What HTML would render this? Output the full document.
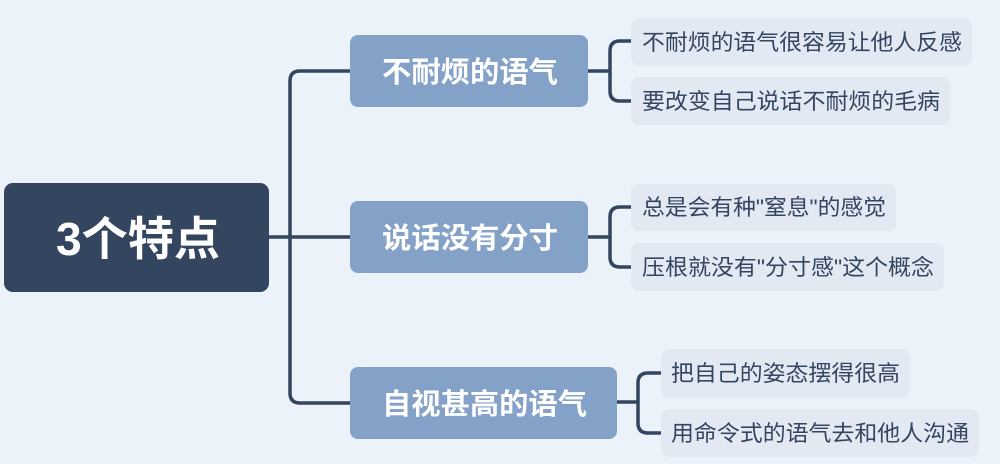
<!DOCTYPE html>
<html><head><meta charset="utf-8"><style>
body{margin:0;background:#ecf2fa;}
svg{display:block}
text{font-family:"Liberation Sans","Noto Sans CJK SC",sans-serif;}
</style></head><body>
<svg width="1000" height="464" viewBox="0 0 1000 464">
<rect width="1000" height="464" fill="#ecf2fa"/>
<g fill="none" stroke="#344560" stroke-width="3.5">
<path d="M269 237 H350"/>
<path d="M350 71 H300 Q290 71 290 81 V393 Q290 403 300 403 H350"/>
<path d="M588 71 H610"/>
<path d="M631 41 H620 Q610 41 610 51 V91 Q610 101 620 101 H631"/>
<path d="M588 237 H610"/>
<path d="M631 207 H620 Q610 207 610 217 V257 Q610 267 620 267 H631"/>
<path d="M617 402 H638"/>
<path d="M661 373 H648 Q638 373 638 383 V423 Q638 433 648 433 H661"/>
</g>
<rect x="4" y="183" width="265" height="109" rx="9" fill="#344560"/>
<text x="56" y="255" font-size="46" font-weight="bold" fill="#fff" textLength="164" lengthAdjust="spacingAndGlyphs">3个特点</text>
<g fill="#84a1c8">
<rect x="350" y="35" width="238" height="72" rx="8"/>
<rect x="350" y="201" width="238" height="72" rx="8"/>
<rect x="350" y="367" width="267" height="72" rx="8"/>
</g>
<g font-size="29" font-weight="bold" fill="#fff">
<text x="382" y="82" textLength="176" lengthAdjust="spacingAndGlyphs">不耐烦的语气</text>
<text x="382" y="248" textLength="176" lengthAdjust="spacingAndGlyphs">说话没有分寸</text>
<text x="382" y="414" textLength="205" lengthAdjust="spacingAndGlyphs">自视甚高的语气</text>
</g>
<g fill="#e3e9f2">
<rect x="631" y="18" width="341" height="48" rx="8"/>
<rect x="631" y="77" width="319" height="48" rx="8"/>
<rect x="631" y="184" width="265" height="47" rx="8"/>
<rect x="631" y="243" width="313" height="48" rx="8"/>
<rect x="661" y="349" width="249" height="49" rx="8"/>
<rect x="661" y="409" width="318" height="48" rx="8"/>
</g>
<g font-size="22" fill="#344560">
<text x="642" y="50" textLength="320" lengthAdjust="spacingAndGlyphs">不耐烦的语气很容易让他人反感</text>
<text x="642" y="109" textLength="298" lengthAdjust="spacingAndGlyphs">要改变自己说话不耐烦的毛病</text>
<text x="642" y="215" textLength="244" lengthAdjust="spacingAndGlyphs">总是会有种"窒息"的感觉</text>
<text x="642" y="275" textLength="292" lengthAdjust="spacingAndGlyphs">压根就没有"分寸感"这个概念</text>
<text x="671" y="381" textLength="229" lengthAdjust="spacingAndGlyphs">把自己的姿态摆得很高</text>
<text x="671" y="441" textLength="298" lengthAdjust="spacingAndGlyphs">用命令式的语气去和他人沟通</text>
</g>
</svg>
</body></html>
